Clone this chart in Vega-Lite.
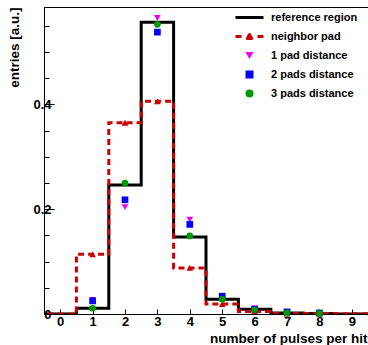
{
  "$schema": "https://vega.github.io/schema/vega-lite/v6.json",
  "width": 324,
  "height": 307,
  "autosize": "none",
  "padding": {"left": 44, "top": 7, "right": 0, "bottom": 31},
  "config": {
    "view": {"stroke": "black", "strokeWidth": 1},
    "font": "Liberation Sans",
    "axis": {
      "labelFont": "Liberation Sans", "labelFontWeight": "bold", "labelFontSize": 13, "labelColor": "black",
      "titleFont": "Liberation Sans", "titleFontWeight": "bold", "titleFontSize": 13.5, "titleColor": "black",
      "domainColor": "black", "tickColor": "black", "grid": false
    }
  },
  "datasets": {
    "hist": [
      {"bin": -1, "series": "reference region", "value": 0},
      {"bin": 0, "series": "reference region", "value": 0},
      {"bin": 1, "series": "reference region", "value": 0.011},
      {"bin": 2, "series": "reference region", "value": 0.246},
      {"bin": 3, "series": "reference region", "value": 0.557},
      {"bin": 4, "series": "reference region", "value": 0.147},
      {"bin": 5, "series": "reference region", "value": 0.028},
      {"bin": 6, "series": "reference region", "value": 0.009},
      {"bin": 7, "series": "reference region", "value": 0.002},
      {"bin": 8, "series": "reference region", "value": 0.001},
      {"bin": 9, "series": "reference region", "value": 0},
      {"bin": 10, "series": "reference region", "value": 0},
      {"bin": -1, "series": "neighbor pad", "value": 0},
      {"bin": 0, "series": "neighbor pad", "value": 0},
      {"bin": 1, "series": "neighbor pad", "value": 0.114},
      {"bin": 2, "series": "neighbor pad", "value": 0.365},
      {"bin": 3, "series": "neighbor pad", "value": 0.406},
      {"bin": 4, "series": "neighbor pad", "value": 0.088},
      {"bin": 5, "series": "neighbor pad", "value": 0.019},
      {"bin": 6, "series": "neighbor pad", "value": 0.005},
      {"bin": 7, "series": "neighbor pad", "value": 0.001},
      {"bin": 8, "series": "neighbor pad", "value": 0.001},
      {"bin": 9, "series": "neighbor pad", "value": 0.0005},
      {"bin": 10, "series": "neighbor pad", "value": 0}
    ],
    "points": [
      {"bin": 1, "series": "neighbor pad", "value": 0.114},
      {"bin": 2, "series": "neighbor pad", "value": 0.365},
      {"bin": 3, "series": "neighbor pad", "value": 0.406},
      {"bin": 4, "series": "neighbor pad", "value": 0.088},
      {"bin": 5, "series": "neighbor pad", "value": 0.019},
      {"bin": 6, "series": "neighbor pad", "value": 0.005},
      {"bin": 7, "series": "neighbor pad", "value": 0.001},
      {"bin": 8, "series": "neighbor pad", "value": 0.001},
      {"bin": 1, "series": "1 pad distance", "value": 0.027},
      {"bin": 2, "series": "1 pad distance", "value": 0.204},
      {"bin": 3, "series": "1 pad distance", "value": 0.565},
      {"bin": 4, "series": "1 pad distance", "value": 0.180},
      {"bin": 5, "series": "1 pad distance", "value": 0.034},
      {"bin": 6, "series": "1 pad distance", "value": 0.011},
      {"bin": 7, "series": "1 pad distance", "value": 0.004},
      {"bin": 8, "series": "1 pad distance", "value": 0.002},
      {"bin": 1, "series": "2 pads distance", "value": 0.025},
      {"bin": 2, "series": "2 pads distance", "value": 0.218},
      {"bin": 3, "series": "2 pads distance", "value": 0.538},
      {"bin": 4, "series": "2 pads distance", "value": 0.171},
      {"bin": 5, "series": "2 pads distance", "value": 0.034},
      {"bin": 6, "series": "2 pads distance", "value": 0.009},
      {"bin": 7, "series": "2 pads distance", "value": 0.004},
      {"bin": 8, "series": "2 pads distance", "value": 0.002},
      {"bin": 1, "series": "3 pads distance", "value": 0.011},
      {"bin": 2, "series": "3 pads distance", "value": 0.250},
      {"bin": 3, "series": "3 pads distance", "value": 0.553},
      {"bin": 4, "series": "3 pads distance", "value": 0.149},
      {"bin": 5, "series": "3 pads distance", "value": 0.028},
      {"bin": 6, "series": "3 pads distance", "value": 0.008},
      {"bin": 7, "series": "3 pads distance", "value": 0.002},
      {"bin": 8, "series": "3 pads distance", "value": 0.001}
    ]
  },
  "encoding": {
    "x": {
      "field": "bin", "type": "quantitative",
      "scale": {"domain": [-0.5, 9.5], "nice": false, "zero": false},
      "axis": {
        "title": "number of pulses per hit",
        "values": [0, 1, 2, 3, 4, 5, 6, 7, 8, 9],
        "tickSize": -5, "labelPadding": 6, "domainWidth": 1,
        "titleAnchor": null, "titleAlign": "right", "titleBaseline": "middle",
        "titleX": 323, "titleY": 24
      }
    },
    "y": {
      "field": "value", "type": "quantitative",
      "scale": {"domain": [0, 0.586], "nice": false},
      "axis": {
        "title": "entries [a.u.]",
        "values": [0, 0.05, 0.1, 0.15, 0.2, 0.25, 0.3, 0.35, 0.4, 0.45, 0.5, 0.55],
        "labelExpr": "round(datum.value*20)%4==0 ? (datum.value==0 ? '0' : format(datum.value, '.1f')) : ''",
        "tickSize": {"condition": {"test": "round(datum.value*20)%4==0", "value": -10}, "value": -5},
        "labelPadding": 3,
        "titleAngle": -90, "titleAnchor": null, "titleAlign": "right", "titleBaseline": "middle",
        "titleX": -30, "titleY": 0
      }
    }
  },
  "layer": [
    {
      "data": {"name": "hist"},
      "transform": [{"filter": "datum.series == 'reference region'"}],
      "mark": {"type": "line", "interpolate": "step", "clip": true, "color": "black", "strokeWidth": 3}
    },
    {
      "data": {"name": "hist"},
      "transform": [{"filter": "datum.series == 'neighbor pad'"}],
      "mark": {"type": "line", "interpolate": "step", "clip": true, "color": "#cc0000", "strokeWidth": 3, "strokeDash": [6, 4]}
    },
    {
      "data": {"name": "points"},
      "transform": [{"filter": "datum.series == 'neighbor pad'"}],
      "mark": {"type": "point", "shape": "triangle-up", "filled": true, "color": "#cc0000", "size": 45, "opacity": 1}
    },
    {
      "data": {"name": "points"},
      "transform": [{"filter": "datum.series != 'neighbor pad'"}],
      "mark": {"type": "point", "filled": true, "opacity": 1},
      "encoding": {
        "color": {
          "field": "series", "type": "nominal",
          "scale": {
            "domain": ["reference region", "neighbor pad", "1 pad distance", "2 pads distance", "3 pads distance"],
            "range": ["black", "#cc0000", "#ee00ee", "#0000ff", "#009900"]
          },
          "legend": {
            "title": null,
            "orient": "none", "legendX": 200, "legendY": 5,
            "symbolSize": 64, "labelOffset": 16, "rowPadding": 7,
            "labelFont": "Liberation Sans", "labelFontWeight": "bold", "labelFontSize": 11, "labelColor": "black",
            "symbolOpacity": 1,
            "encode": {
              "symbols": {
                "update": {
                  "stroke": {"signal": "scale('color', datum.value)"},
                  "strokeJoin": {"value": "round"},
                  "strokeWidth": {"signal": "datum.value == 'reference region' || datum.value == 'neighbor pad' ? 3 : 0"}
                }
              }
            }
          }
        },
        "shape": {
          "field": "series", "type": "nominal",
          "scale": {
            "domain": ["reference region", "neighbor pad", "1 pad distance", "2 pads distance", "3 pads distance"],
            "range": ["M-3.5,0H3.5", "M-3.5,0H-2M2,0H3.5M-0.55,0.5L0,-0.5L0.55,0.5Z", "triangle-down", "square", "circle"]
          }
        },
        "size": {"value": 45},
        "order": {"field": "series"}
      }
    }
  ]
}
